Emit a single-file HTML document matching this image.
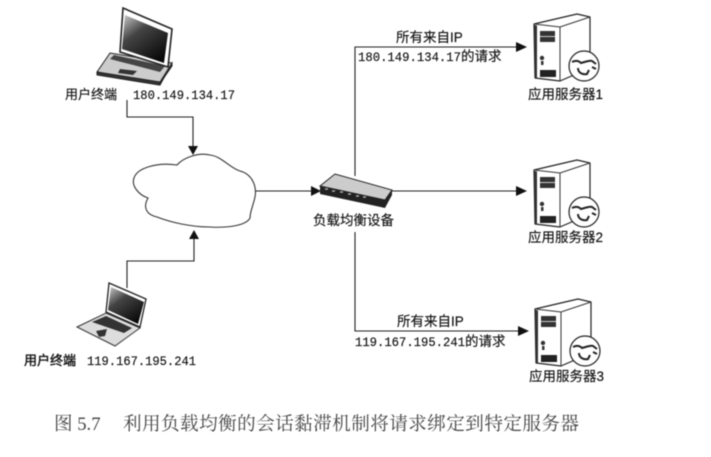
<!DOCTYPE html>
<html><head><meta charset="utf-8"><style>
html,body{margin:0;padding:0;background:#fff}
svg{display:block;filter:blur(.45px)}
text{font-family:"Liberation Sans","WenQuanYi Zen Hei","Noto Sans CJK SC",sans-serif;font-size:13.5px;fill:#111;stroke:#111;stroke-width:.15}
.m{font-family:"Liberation Mono","WenQuanYi Zen Hei","Noto Sans CJK SC",monospace;font-size:13px}
.c{font-family:"Liberation Serif","Noto Serif CJK SC",serif;font-size:18.6px;fill:#444;stroke:none}
.l{fill:none;stroke:#222;stroke-width:1.1}
</style></head><body>
<svg width="711" height="457" viewBox="0 0 711 457" xmlns="http://www.w3.org/2000/svg">
<defs>
<linearGradient id="s" x1="0" y1="0" x2=".7" y2="1"><stop offset="0" stop-color="#ccc"/><stop offset=".4" stop-color="#444"/><stop offset="1" stop-color="#0a0a0a"/></linearGradient>
<g id="srv">
<path d="M534 24L577 14L590 17L590 68L560 81L535 78Z" fill="#fff" stroke="#222" stroke-width="1.2" stroke-linejoin="round"/>
<path d="M534 24L560 27L590 17M560 27V81" fill="none" stroke="#333" stroke-width="1"/>
<path d="M534.5 25L537 25.5V78L535 78Z" fill="#333"/>
<rect x="540" y="31" width="15" height="11" fill="#333"/><path d="M540 36.5H555" stroke="#ccc"/>
<circle cx="542" cy="58" r="2.2" fill="#333"/><rect x="541" y="61" width="2.5" height="4" fill="#333"/>
<rect x="540" y="70" width="16" height="7" fill="#222"/>
<circle cx="584" cy="66" r="15" fill="#fff" stroke="#222" stroke-width="1.2"/>
<path d="M572 62C576 60 579 61 581 63C585 62 590 60 592 61L596 64M578 68C578 73 583 75 587 74L589 70M592 67L596 69" fill="none" stroke="#222" stroke-width="2"/>
</g>
</defs>
<path class="l" d="M127 100V117H193V148"/><path d="M188 146H198L193 155Z" fill="#111"/>
<path class="l" d="M127 288V261H194V237"/><path d="M189 239H199L194 230Z" fill="#111"/>
<path class="l" d="M255 191H312"/><path d="M311 186V196L321 191Z" fill="#111"/>
<path class="l" d="M355 176V47H518"/><path d="M516 42V52L527 47Z" fill="#111"/>
<path class="l" d="M391 191H518"/><path d="M516 186V196L527 191Z" fill="#111"/>
<path class="l" d="M355 232V331H520"/><path d="M518 326V336L529 331Z" fill="#111"/>

<!-- cloud -->
<path d="M177 165C183 158 198 152 210 155C221 156 230 168 240 171C252 174 257 186 255 197C253 206 250 212 250 218C246 226 226 228 210 227C190 227 170 222 157 217C148 215 142 209 148 198C139 195 131 186 134 178C137 168 157 162 177 165Z" fill="#fff" stroke="#333" stroke-width="1.1"/>

<!-- laptop 1 -->
<path d="M97 72L110 53L172 63L160 85Z" fill="#ccc" stroke="#222"/>
<path d="M97 72L97 75L159 85L172 66L172 63L160 82Z" fill="#333" stroke="#222"/>
<path d="M110 59L114 55L165 66L160 72Z" fill="#444"/>
<path d="M120 69L137 71L133 75L118 73Z" fill="#333"/>
<path d="M123 8L172 29L168 67L120 52Z" fill="#fff" stroke="#222" stroke-width="1.6"/>
<path d="M125 15L168 33L164 63L122 49Z" fill="url(#s)"/>
<!-- laptop 2 -->
<path d="M77 327L106 313L140 328L115 346Z" fill="#ddd" stroke="#333"/>
<path d="M92 322L106 316L132 328L124 333Z" fill="#333"/>
<path d="M96 331L107 329L105 336L99 337Z" fill="#333"/>
<path d="M109 283L146 299L140 327L106 312Z" fill="#fff" stroke="#222" stroke-width="1.3"/>
<path d="M111 287L144 302L138 324L108 310Z" fill="url(#s)"/>

<!-- switch -->
<path d="M320 186L335 174L392 190L385 200Z" fill="#ccc" stroke="#222"/>
<path d="M320 186L385 200L385 208L320 194Z" fill="#222"/>
<path d="M385 200L392 190V195L385 208Z" fill="#222"/>
<path d="M325 189H328M332 191H335M340 192H343M348 194H351M356 196H359M363 197H366" stroke="#aaa" stroke-width="1.5"/>

<use href="#srv"/>
<use href="#srv" y="146"/>
<use href="#srv" x="1" y="285"/>

<text x="65" y="99" style="font-size:13px">用户终端</text>
<text class="m" x="133" y="99" textLength="102" lengthAdjust="spacingAndGlyphs">180.149.134.17</text>
<text x="24" y="365" style="font-size:13px;stroke-width:.4">用户终端</text>
<text class="m" x="87" y="365" textLength="109" lengthAdjust="spacingAndGlyphs">119.167.195.241</text>
<text x="396" y="42">所有来自IP</text>
<text class="m" x="358" y="61" textLength="103" lengthAdjust="spacingAndGlyphs">180.149.134.17</text><text x="461" y="61">的请求</text>
<text x="397" y="326">所有来自IP</text>
<text class="m" x="355" y="346" textLength="110" lengthAdjust="spacingAndGlyphs">119.167.195.241</text><text x="465" y="346">的请求</text>
<text x="313" y="225">负载均衡设备</text>
<text x="528" y="99">应用服务器1</text>
<text x="528" y="242">应用服务器2</text>
<text x="529" y="381">应用服务器3</text>
<text class="c" x="54" y="430">图 5.7</text>
<text class="c" x="123" y="430" textLength="456">利用负载均衡的会话黏滞机制将请求绑定到特定服务器</text>
</svg>
</body></html>
